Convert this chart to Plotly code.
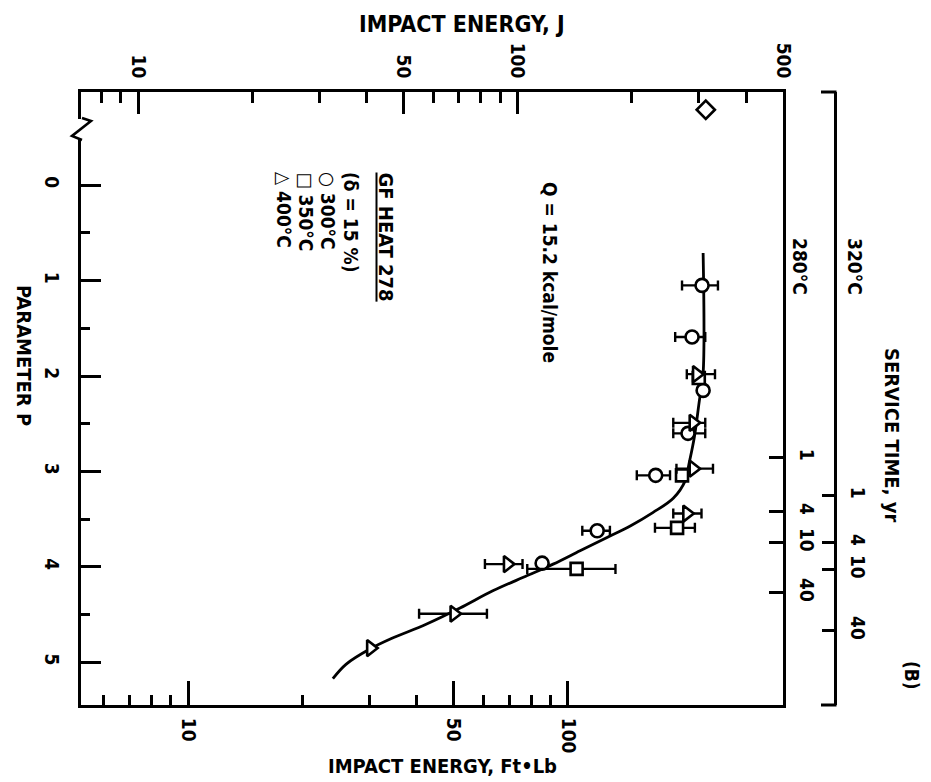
import plotly.graph_objects as go
import math

# ---------------- data ----------------
# 300 C  (circles)
c300_P = [1.05, 1.59, 2.15, 2.60, 3.04, 3.62, 3.96]
c300_J = [306, 288, 308, 281, 231, 162, 116]
c300_lo = [271, 260, 308, 257, 206, 148, 116]
c300_hi = [337, 312, 308, 312, 252, 175, 116]
# 350 C  (squares)
c350_P = [2.02, 3.04, 3.59, 4.02]
c350_J = [300, 271, 263, 143]
c350_lo = [300, 271, 230, 106]
c350_hi = [300, 271, 293, 181]
# 400 C  (triangles)
c400_P = [1.98, 2.49, 2.97, 3.44, 3.97, 4.49, 4.85]
c400_J = [296, 290, 290, 279, 94, 68, 41]
c400_lo = [279, 257, 262, 257, 82, 55, 41]
c400_hi = [331, 312, 327, 305, 103, 83, 41]
# reference (diamond)
ref_P = [-0.79]
ref_J = [313]
# fitted curve
curve_P = [0.71, 1.97, 2.26, 2.64, 2.91, 3.10, 3.28, 3.43, 3.57, 3.69, 3.83, 3.97,
           4.09, 4.25, 4.43, 4.60, 4.75, 4.86, 5.02, 5.17]
curve_J = [308, 308, 301, 292, 283, 276, 257, 227, 198, 172, 146, 124,
           106, 86, 70.5, 57.4, 46.5, 40.8, 35.3, 32.6]

# axis ticks
J_major = [10, 50, 100, 500]
J_minor = [8, 9, 20, 30, 40, 60, 70, 80, 90, 200, 300, 400]
ft_major = [10, 50, 100]
ft_minor = [6, 7, 8, 9, 20, 30, 40, 60, 70, 80, 90]
P_major = [0, 1, 2, 3, 4, 5]
P_minor = [0.5, 1.5, 2.5, 3.5, 4.5]
svc_labels = ["1", "4", "10", "40"]
svc280_P = [2.854, 3.421, 3.746, 4.271]
svc320_P = [3.253, 3.746, 4.029, 4.669]

FT_TO_J = 1.3558

# ---------------- layout geometry ----------------
W, H = 931, 782
L, R, T, B = 81, 835, 92, 705      # plot box (outer bracket at R)
FRAME_R = 783
J_range = [0.8498, math.log10(500)]
P_range = [5.446, -0.976]


def px(x):
    return (x - L) / (R - L)


def py(y):
    return (B - y) / (B - T)


FONT = "DejaVu Sans Condensed, Liberation Sans Narrow, Roboto Condensed, DejaVu Sans, sans-serif"
tfont = dict(family=FONT, size=19, color="black", weight="bold")

fig = go.Figure()


def err(J, lo, hi):
    return dict(type="data", symmetric=False,
                array=[h - j for j, h in zip(J, hi)],
                arrayminus=[j - l for j, l in zip(J, lo)],
                thickness=2.4, width=5, color="black")


fig.add_trace(go.Scatter(x=curve_J, y=curve_P, mode="lines", line=dict(color="black", width=2.8, shape="spline"),
                         showlegend=False, hoverinfo="skip"))
fig.add_trace(go.Scatter(x=c300_J, y=c300_P, mode="markers", error_x=err(c300_J, c300_lo, c300_hi),
                         marker=dict(symbol="circle", size=13, color="white", line=dict(color="black", width=2.6)),
                         showlegend=False))
fig.add_trace(go.Scatter(x=c350_J, y=c350_P, mode="markers", error_x=err(c350_J, c350_lo, c350_hi),
                         marker=dict(symbol="square", size=12, color="white", line=dict(color="black", width=2.6)),
                         showlegend=False))
fig.add_trace(go.Scatter(x=c400_J, y=c400_P, mode="markers", error_x=err(c400_J, c400_lo, c400_hi),
                         marker=dict(symbol="triangle-right", size=14, color="white", line=dict(color="black", width=2.6)),
                         showlegend=False))
fig.add_trace(go.Scatter(x=ref_J, y=ref_P, mode="markers",
                         marker=dict(symbol="diamond", size=14, color="white", line=dict(color="black", width=2.6)),
                         showlegend=False))

dom = [0, px(FRAME_R)]
common = dict(showgrid=False, zeroline=False, showline=True, linecolor="black", linewidth=3,
              tickcolor="black", tickwidth=2.5, tickfont=tfont, tickangle=90)

fig.update_layout(
    width=W, height=H, margin=dict(l=L, r=W - R, t=T, b=H - B),
    paper_bgcolor="white", plot_bgcolor="white", showlegend=False,
    xaxis=dict(type="log", range=J_range, domain=dom, side="top", anchor="y",
               tickmode="array", tickvals=J_major, ticktext=[str(v) for v in J_major],
               ticks="inside", ticklen=22, ticklabelstandoff=4,
               minor=dict(tickmode="array", tickvals=J_minor, ticks="inside", ticklen=11,
                          tickcolor="black", tickwidth=2.5), **common),
    xaxis2=dict(type="log", range=[J_range[0] - math.log10(FT_TO_J), J_range[1] - math.log10(FT_TO_J)],
                domain=dom, side="bottom", anchor="y", overlaying="x",
                tickmode="array", tickvals=ft_major, ticktext=[str(v) for v in ft_major],
                ticks="inside", ticklen=24, ticklabelstandoff=6,
                minor=dict(tickmode="array", tickvals=ft_minor, ticks="inside", ticklen=10,
                           tickcolor="black", tickwidth=2.5), **common),
    yaxis=dict(range=P_range, side="left", anchor="x",
               tickmode="array", tickvals=P_major, ticktext=[str(v) for v in P_major],
               ticks="inside", ticklen=20, ticklabelstandoff=10,
               minor=dict(tickmode="array", tickvals=P_minor, ticks="inside", ticklen=9,
                          tickcolor="black", tickwidth=2.5), **common),
    yaxis2=dict(range=P_range, side="right", anchor="x", overlaying="y",
                tickmode="array", tickvals=svc280_P, ticktext=svc_labels,
                ticks="inside", ticklen=14, ticklabelstandoff=6, **common),
    yaxis3=dict(range=P_range, side="right", anchor="free", position=1.0, overlaying="y",
                tickmode="array", tickvals=svc320_P, ticktext=svc_labels,
                ticks="inside", ticklen=12, ticklabelstandoff=6, **common),
)
# activate secondary axes with invisible traces
fig.add_trace(go.Scatter(x=[20], y=[2], xaxis="x2", yaxis="y2", mode="markers",
                         marker=dict(opacity=0), showlegend=False, hoverinfo="skip"))
fig.add_trace(go.Scatter(x=[20], y=[2], xaxis="x2", yaxis="y3", mode="markers",
                         marker=dict(opacity=0), showlegend=False, hoverinfo="skip"))

# outer bracket ends
for yy in (0, 1):
    fig.add_shape(type="line", xref="paper", yref="paper", x0=px(821), x1=px(836.5), y0=yy, y1=yy,
                  line=dict(color="black", width=3))
# axis break on left axis
fig.add_shape(type="rect", xref="paper", yref="paper", x0=px(76), x1=px(88), y0=py(139), y1=py(119),
              line=dict(width=0), fillcolor="white", layer="above")
fig.add_shape(type="path", xref="paper", yref="paper",
              path=f"M {px(82)},{py(118)} L {px(91)},{py(121)} L {px(72)},{py(136)} L {px(82)},{py(140)}",
              line=dict(color="black", width=2.6), layer="above")


def ann(text, x, y, angle=90, size=19, xa="center", ya="middle"):
    fig.add_annotation(text=text, x=px(x), y=py(y), xref="paper", yref="paper", showarrow=False,
                       textangle=angle, xanchor=xa, yanchor=ya,
                       font=dict(family=FONT, size=size, color="black", weight="bold"))


ann("IMPACT ENERGY, J", 462, 24, angle=0, size=23)
ann("IMPACT ENERGY, Ft\u2022Lb", 442, 766, angle=0, size=20)
ann("PARAMETER P", 24, 355, size=20)
ann("SERVICE TIME, yr", 892, 435, size=20)
ann("280\u00b0C", 800, 266)
ann("320\u00b0C", 855, 266)
ann("(B)", 912, 676)
ann("Q = 15.2 kcal/mole", 550, 272)
ann("<u>GF HEAT 278</u>", 386, 170, ya="top", size=20)
ann("(\u03b4 = 15 %)", 351, 170, ya="top")
ann("\u25cb 300\u00b0C", 328, 170, ya="top")
ann("\u25a1 350\u00b0C", 306, 170, ya="top")
ann("\u25b3 400\u00b0C", 284, 170, ya="top")

fig.write_html("out.html")
